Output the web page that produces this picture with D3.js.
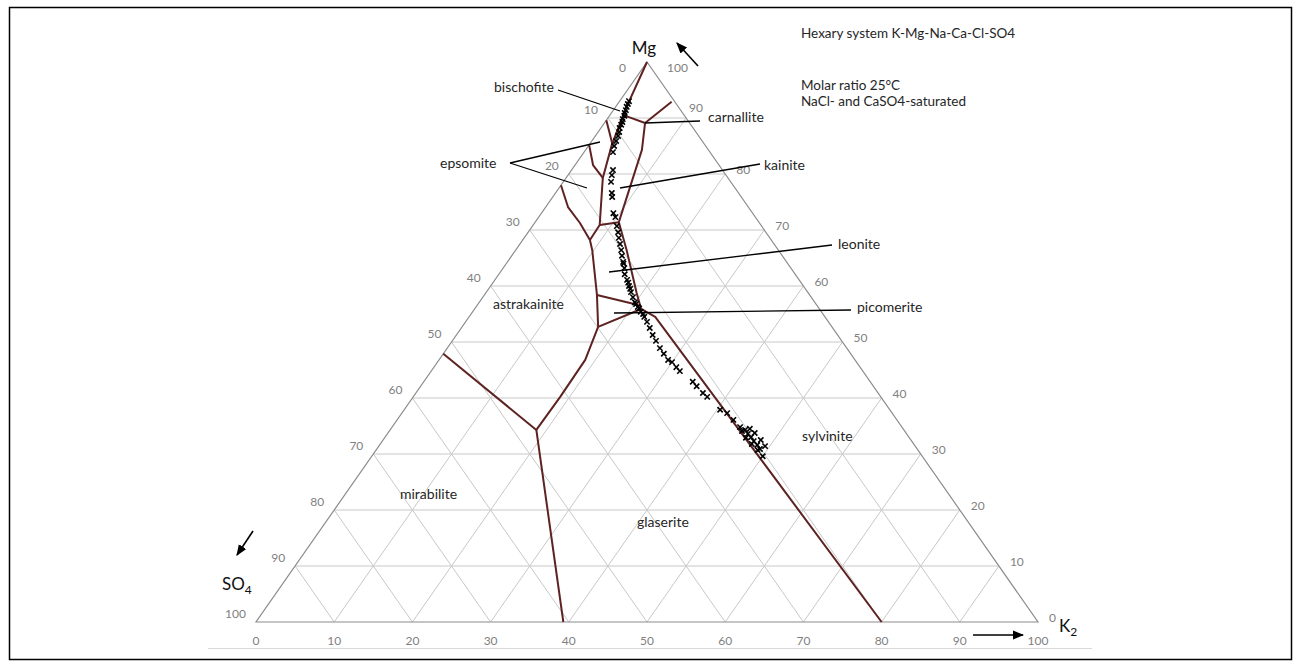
<!DOCTYPE html>
<html>
<head>
<meta charset="utf-8">
<script src="https://cdn.jsdelivr.net/npm/d3@7"></script>
<style>
  body { margin: 0; background: #fff; }
  svg { display: block; font-family: Lato, "Open Sans", sans-serif; }
</style>
</head>
<body>
<div id="chart"></div>
<script>
// ternary values are [K2, Mg] in mol-%, SO4 = 100 - K2 - Mg
const ticks = [0, 10, 20, 30, 40, 50, 60, 70, 80, 90, 100];

// phase boundaries
const boundaries = [
  [[0, 47.9], [18.7, 34.3]],
  [[18.7, 34.3], [39.3, 0]],
  [[18.7, 34.3], [18.8, 40.2], [18.7, 46.8], [17.4, 52.7]],
  [[17.4, 52.7], [21.3, 55.9]],
  [[17.4, 52.7], [14.4, 58.4], [9.8, 66.4], [8.6, 68.2]],
  [[14.4, 58.4], [20.6, 56.6]],
  [[0, 78], [2.85, 74.1], [5.8, 71.25], [8.6, 68.2]],
  [[8.6, 68.2], [8.5, 70.9], [4.7, 79.3]],
  [[8.5, 70.9], [10.7, 71.4]],
  [[5.2, 89.1], [7.2, 84.3], [10.7, 71.4], [14.2, 66.4], [19.3, 58.75], [21.3, 55.9]],
  [[21.3, 55.9], [23.8, 54.5], [80, 0]],
  [[5.2, 89.1], [6.7, 92.9]],
  [[5.2, 89.1], [2.5, 90.2], [1.9, 90.4]],
  [[0, 100], [1.5, 91.4], [2.9, 85.2], [4.7, 79.3]],
  [[0, 89.6], [2.8, 85.5]],
  [[0, 85.2], [2.3, 81.6], [4.7, 79.3]]
];

// solution compositions (crosses)
const samples = [
  [1.2, 93.0], [1.3, 92.5], [1.4, 92.0], [1.6, 91.4], [1.7, 90.9], [1.9, 90.4],
  [2.0, 89.8], [2.2, 89.3], [2.3, 88.8], [2.4, 88.2], [2.7, 87.5], [2.9, 86.8],
  [3.1, 85.9], [3.3, 85.0], [3.7, 83.9], [5.3, 80.7], [5.6, 79.8], [6.1, 78.6],
  [7.2, 76.6], [7.6, 75.9], [9.2, 73.0], [9.8, 72.3], [10.8, 70.7], [11.5, 69.6],
  [12.1, 68.6], [12.8, 67.5], [13.5, 66.4], [14.1, 65.4], [14.8, 64.3], [15.5, 63.2],
  [16.1, 62.1], [16.9, 61.1], [17.7, 60.0], [18.5, 58.9], [19.2, 58.0], [19.9, 57.1],
  [20.7, 56.25], [21.5, 55.4], [22.4, 54.5], [23.2, 53.6], [24.1, 52.5], [25.1, 51.25],
  [26.05, 50.2], [27.2, 48.9], [28.2, 47.9], [29.3, 46.8], [30.0, 46.4], [31.0, 45.5],
  [31.8, 44.8], [34.4, 42.9], [35.3, 42.1], [36.7, 40.9], [37.6, 40.2], [40.4, 37.9],
  [41.6, 37.3], [43.0, 36.1], [44.5, 34.8], [45.4, 34.3], [46.1, 33.6], [46.8, 33.0],
  [47.5, 32.3], [48.3, 31.6], [49.0, 30.9], [50.0, 29.6], [45.9, 34.5], [46.9, 33.75],
  [48.3, 32.5], [49.4, 31.4], [45.1, 34.1], [46.2, 32.9], [47.5, 31.8], [48.8, 30.7],
  [20.2, 56.8], [21.0, 56.0], [22.0, 55.0], [17.3, 60.6], [18.1, 59.5], [15.0, 64.0]
];

const phaseNames = ["bischofite", "carnallite", "epsomite", "kainite", "leonite",
  "astrakainite", "picomerite", "sylvinite", "mirabilite", "glaserite"];
// text anchor spots (start of text, baseline) for each phase name
const phaseSpots = [[494, 92], [708, 122], [440, 168], [764, 170], [838, 249],
  [493, 309], [857, 312], [802, 441], [400, 499], [637, 527]];
const pointers = [
  [[558, 90], [620, 111]],
  [[700, 121], [645, 123]],
  [[510, 163], [600, 142]],
  [[510, 163], [587, 188]],
  [[760, 164], [620, 188]],
  [[832, 245], [609, 272]],
  [[851, 310], [614, 313]]
];

const W = 1302, H = 666;
const svg = d3.select("#chart").append("svg").attr("width", W).attr("height", H);

// frame
svg.append("rect").attr("x", 9.5).attr("y", 7.5).attr("width", 1282).attr("height", 652)
  .attr("fill", "none").attr("stroke", "#000").attr("stroke-width", 1.5);
svg.append("line").attr("x1", 208).attr("x2", 1092).attr("y1", 648.5).attr("y2", 648.5)
  .attr("stroke", "#d9d9d9").attr("stroke-width", 1);

// stretched ternary: x from K2 + Mg/2, y from Mg
const xs = d3.scaleLinear().domain([0, 100]).range([256, 1038]);
const ys = d3.scaleLinear().domain([0, 100]).range([622, 62]);
const px = d => xs(d[0] + d[1] / 2);
const py = d => ys(d[1]);
const line = d3.line().x(px).y(py);

// grid
const grid = svg.append("g").attr("stroke", "#c8c8c8").attr("stroke-width", 1).attr("fill", "none");
ticks.slice(1, -1).forEach(t => {
  grid.append("path").attr("d", line([[0, t], [100 - t, t]]));   // Mg const
  grid.append("path").attr("d", line([[t, 0], [t, 100 - t]]));   // K2 const
  grid.append("path").attr("d", line([[t, 0], [0, t]]));         // SO4 const
});
svg.append("path").attr("d", line([[0, 0], [100, 0], [0, 100]]) + "Z")
  .attr("fill", "none").attr("stroke", "#8c8c8c").attr("stroke-width", 1.2);

// tick labels
const tl = svg.append("g").attr("fill", "#7f7f7f").attr("font-size", 12);
tl.selectAll(".tb").data(ticks).enter().append("text")
  .attr("x", d => px([d, 0])).attr("y", 645).attr("text-anchor", "middle").text(d => d);
tl.selectAll(".tl").data(ticks).enter().append("text")
  .attr("x", d => d === 0 ? px([0, 100]) - 21 : px([0, 100 - d]) - 10)
  .attr("y", d => d === 0 ? 72 : py([0, 100 - d]) - 4)
  .attr("text-anchor", "end").text(d => d);
tl.selectAll(".tr").data(ticks).enter().append("text")
  .attr("x", d => d === 100 ? px([0, 100]) + 20 : px([100 - d, d]) + (d === 90 ? 3 : 11))
  .attr("y", d => d === 100 ? 72 : py([100 - d, d]) - (d === 90 ? 6 : 0))
  .attr("text-anchor", "start").text(d => d);

// phase boundaries
svg.append("g").selectAll("path").data(boundaries).enter().append("path")
  .attr("d", line).attr("fill", "none").attr("stroke", "#5e2222")
  .attr("stroke-width", 2).attr("stroke-linejoin", "round");

// samples
svg.append("g").selectAll("path").data(samples).enter().append("path")
  .attr("transform", d => `translate(${px(d)},${py(d)})`)
  .attr("d", d3.symbol(d3.symbolTimes, 20))
  .attr("stroke", "#000").attr("stroke-width", 1.6).attr("fill", "none");

// phase labels + pointer lines
const pl = svg.append("g");
pl.selectAll("text").data(phaseNames).enter().append("text")
  .attr("x", (d, i) => phaseSpots[i][0]).attr("y", (d, i) => phaseSpots[i][1])
  .attr("font-size", 14).attr("fill", "#262626").text(d => d);
pl.selectAll("line").data(pointers).enter().append("line")
  .attr("x1", d => d[0][0]).attr("y1", d => d[0][1]).attr("x2", d => d[1][0]).attr("y2", d => d[1][1])
  .attr("stroke", "#000").attr("stroke-width", 1.3);

// axis titles and arrows
svg.append("defs").append("marker").attr("id", "ah").attr("viewBox", "0 0 10 10")
  .attr("refX", 9).attr("refY", 5).attr("markerWidth", 7).attr("markerHeight", 7)
  .attr("orient", "auto").append("path").attr("d", "M0,1 L10,5 L0,9 Z").attr("fill", "#000");
const arrows = [[[698, 66], [677, 43]], [[253, 531], [237, 555]], [[973, 635], [1023, 635]]];
svg.append("g").selectAll("line").data(arrows).enter().append("line")
  .attr("x1", d => d[0][0]).attr("y1", d => d[0][1]).attr("x2", d => d[1][0]).attr("y2", d => d[1][1])
  .attr("stroke", "#000").attr("stroke-width", 1.6).attr("marker-end", "url(#ah)");

svg.append("text").attr("x", 644).attr("y", 54).attr("text-anchor", "middle")
  .attr("font-size", 17).attr("fill", "#111").text("Mg");
const so4 = svg.append("text").attr("x", 222).attr("y", 590).attr("font-size", 17).attr("fill", "#111");
so4.append("tspan").text("SO");
so4.append("tspan").attr("font-size", 12).attr("dy", 4).text("4");
const k2 = svg.append("text").attr("x", 1059).attr("y", 632).attr("font-size", 17).attr("fill", "#111");
k2.append("tspan").text("K");
k2.append("tspan").attr("font-size", 12).attr("dy", 4).text("2");

const notes = svg.append("g").attr("font-size", 13.5).attr("fill", "#262626");
notes.append("text").attr("x", 801).attr("y", 38).text("Hexary system K-Mg-Na-Ca-Cl-SO4");
notes.append("text").attr("x", 801).attr("y", 90).text("Molar ratio 25°C");
notes.append("text").attr("x", 801).attr("y", 106).text("NaCl- and CaSO4-saturated");
</script>
</body>
</html>
